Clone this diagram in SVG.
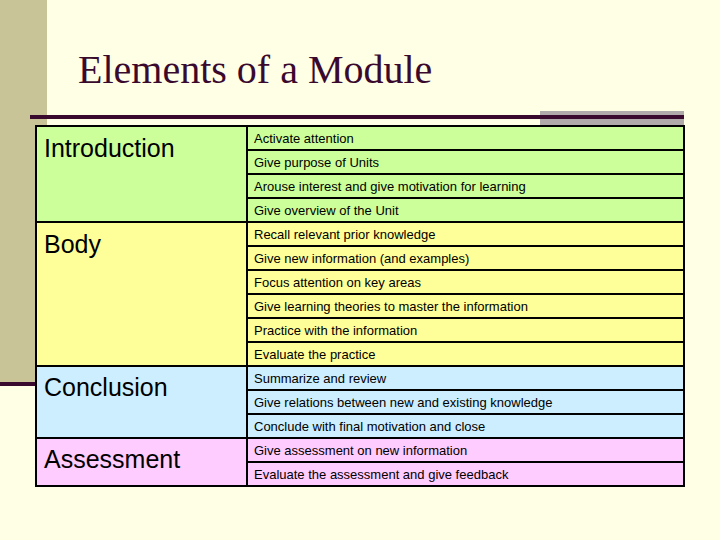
<svg xmlns="http://www.w3.org/2000/svg" width="720" height="540" viewBox="0 0 720 540">
<style>
.c{font-family:"Liberation Sans",Arial,sans-serif;font-size:13px;fill:#000}
.h{font-family:"Liberation Sans",Arial,sans-serif;font-size:25px;fill:#000}
.l{stroke:#000;stroke-width:2}
</style>
<rect width="720" height="540" fill="#ffffe6"/>
<rect x="0" y="0" width="47" height="384" fill="#c8c497"/>
<rect x="0" y="382" width="36" height="4" fill="#3a0a2e"/>
<rect x="540" y="111" width="144" height="14" fill="#b0aaaa"/>
<rect x="30" y="115" width="654" height="4" fill="#3a0a2e"/>
<text x="78" y="83" font-family="Liberation Serif,serif" font-size="40" fill="#3a0a2e">Elements of a Module</text>
<g id="introduction"><rect x="36" y="126" width="648" height="96" fill="#ccff99"/><text class="h" x="44" y="157">Introduction</text></g>
<g id="body"><rect x="36" y="222" width="648" height="144" fill="#ffff99"/><text class="h" x="44" y="253">Body</text></g>
<g id="conclusion"><rect x="36" y="366" width="648" height="72" fill="#cceeff"/><text class="h" x="44" y="396">Conclusion</text></g>
<g id="assessment"><rect x="36" y="438" width="648" height="48" fill="#ffccff"/><text class="h" x="44" y="468">Assessment</text></g>
<g id="connectors" class="l">
<rect x="36" y="126" width="648" height="360" fill="none"/>
<line x1="247" y1="126" x2="247" y2="486"/>
<line x1="36" y1="222" x2="684" y2="222"/>
<line x1="36" y1="366" x2="684" y2="366"/>
<line x1="36" y1="438" x2="684" y2="438"/>
<path d="M247 150H684M247 174H684M247 198H684M247 246H684M247 270H684M247 294H684M247 318H684M247 342H684M247 390H684M247 414H684M247 462H684"/>
</g>
<g id="items">
<text class="c" x="254" y="143">Activate attention</text>
<text class="c" x="254" y="167">Give purpose of Units</text>
<text class="c" x="254" y="191">Arouse interest and give motivation for learning</text>
<text class="c" x="254" y="215">Give overview of the Unit</text>
<text class="c" x="254" y="239">Recall relevant prior knowledge</text>
<text class="c" x="254" y="263">Give new information (and examples)</text>
<text class="c" x="254" y="287">Focus attention on key areas</text>
<text class="c" x="254" y="311">Give learning theories to master the information</text>
<text class="c" x="254" y="335">Practice with the information</text>
<text class="c" x="254" y="359">Evaluate the practice</text>
<text class="c" x="254" y="383">Summarize and review</text>
<text class="c" x="254" y="407">Give relations between new and existing knowledge</text>
<text class="c" x="254" y="431">Conclude with final motivation and close</text>
<text class="c" x="254" y="455">Give assessment on new information</text>
<text class="c" x="254" y="479">Evaluate the assessment and give feedback</text>
</g>
</svg>
